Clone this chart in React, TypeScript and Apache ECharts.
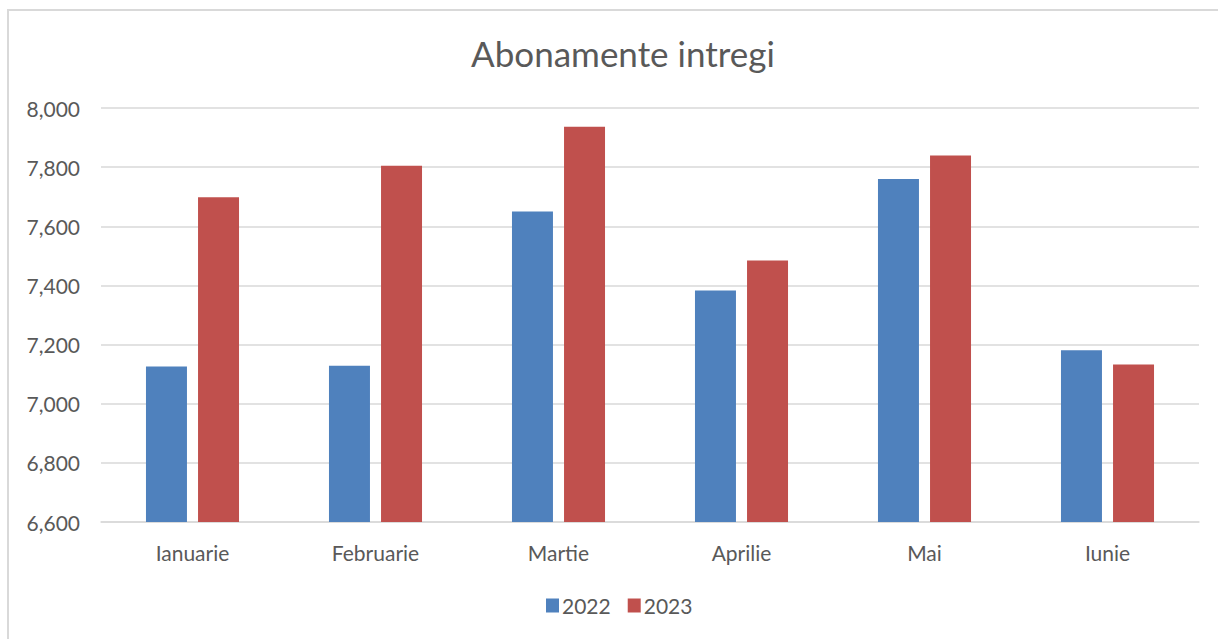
import React, { useEffect, useRef } from "react";
import * as echarts from "echarts";

const categories = ["Ianuarie", "Februarie", "Martie", "Aprilie", "Mai", "Iunie"];
const values2022 = [7126, 7128, 7650, 7383, 7760, 7181];
const values2023 = [7698, 7805, 7937, 7484, 7839, 7133];
const seriesNames = ["2022", "2023"];
const yMin = 6600;
const yMax = 8000;
const yInterval = 200;

const FONT = "Lato, 'Liberation Sans', sans-serif";
const TEXT_COLOR = "#595959";

export default function App() {
  const ref = useRef<HTMLDivElement>(null);
  useEffect(() => {
    if (!ref.current) return;
    const chart = echarts.init(ref.current, null, { renderer: "svg" });
    chart.setOption({
      animation: false,
      backgroundColor: "#ffffff",
      textStyle: { fontFamily: FONT },
      title: {
        text: "Abonamente intregi",
        left: 618,
        textAlign: "center",
        top: 30,
        textStyle: { fontFamily: FONT, fontSize: 35, fontWeight: "normal", color: TEXT_COLOR },
      },
      graphic: [
        {
          type: "rect",
          silent: true,
          shape: { x: 8, y: 10, width: 1240, height: 660 },
          style: { fill: "none", stroke: "#d9d9d9", lineWidth: 2 },
        },
      ],
      legend: {
        data: seriesNames,
        bottom: 18,
        left: 541,
        itemWidth: 13,
        itemHeight: 14,
        itemGap: 17,
        icon: "rect",
        textStyle: { fontFamily: FONT, fontSize: 21, color: TEXT_COLOR, padding: [0, 0, 0, -2] },
      },
      grid: { left: 101, right: 19, top: 108, bottom: 117, containLabel: false },
      xAxis: {
        type: "category",
        data: categories,
        axisLine: { show: true, lineStyle: { color: "#d9d9d9", width: 1.5 } },
        axisTick: { show: false },
        axisLabel: { fontFamily: FONT, fontSize: 21, color: TEXT_COLOR, margin: 20 },
      },
      yAxis: {
        type: "value",
        min: yMin,
        max: yMax,
        interval: yInterval,
        axisLine: { show: false },
        axisTick: { show: false },
        splitLine: { lineStyle: { color: "#d9d9d9", width: 1.5 } },
        axisLabel: {
          fontFamily: FONT,
          fontSize: 21,
          color: TEXT_COLOR,
          margin: 21,
          formatter: (v: number) => v.toLocaleString("en-US"),
        },
      },
      series: [
        {
          name: seriesNames[0],
          type: "bar",
          data: values2022,
          barWidth: "22.4%",
          barGap: "27%",
          itemStyle: { color: "#4F81BD" },
        },
        {
          name: seriesNames[1],
          type: "bar",
          data: values2023,
          barWidth: "22.4%",
          barGap: "27%",
          itemStyle: { color: "#C0504D" },
        },
      ],
    });
    return () => chart.dispose();
  }, []);
  return (
    <div
      ref={ref}
      style={{ position: "fixed", left: 0, top: 0, width: 1218, height: 639, background: "#fff" }}
    />
  );
}
